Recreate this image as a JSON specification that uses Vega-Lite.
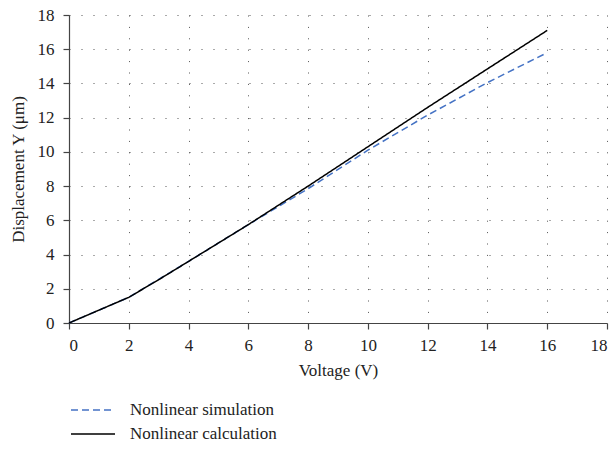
{
  "$schema": "https://vega.github.io/schema/vega-lite/v6.json",
  "width": 538,
  "height": 308,
  "autosize": "none",
  "padding": {"left": 69, "top": 15, "right": 8, "bottom": 126},
  "config": {
    "font": "Liberation Serif",
    "view": {"stroke": null},
    "axis": {
      "labelFont": "Liberation Serif",
      "titleFont": "Liberation Serif",
      "labelFontSize": 17,
      "titleFontSize": 17,
      "titleFontWeight": "normal",
      "labelColor": "#222",
      "titleColor": "#222",
      "domainColor": "#444",
      "tickColor": "#444",
      "domainWidth": 1.2,
      "tickWidth": 1.2,
      "tickSize": 6,
      "grid": true,
      "gridColor": "#555",
      "gridWidth": 1,
      "gridOpacity": 1
    }
  },
  "data": {
    "values": [
      {"v": 0, "d": 0, "series": "Nonlinear simulation"},
      {"v": 2, "d": 1.5, "series": "Nonlinear simulation"},
      {"v": 4, "d": 3.6, "series": "Nonlinear simulation"},
      {"v": 6, "d": 5.75, "series": "Nonlinear simulation"},
      {"v": 7, "d": 6.8, "series": "Nonlinear simulation"},
      {"v": 8, "d": 7.85, "series": "Nonlinear simulation"},
      {"v": 10, "d": 10.1, "series": "Nonlinear simulation"},
      {"v": 12, "d": 12.15, "series": "Nonlinear simulation"},
      {"v": 14, "d": 14.05, "series": "Nonlinear simulation"},
      {"v": 16, "d": 15.8, "series": "Nonlinear simulation"},
      {"v": 0, "d": 0, "series": "Nonlinear calculation"},
      {"v": 1, "d": 0.75, "series": "Nonlinear calculation"},
      {"v": 2, "d": 1.5, "series": "Nonlinear calculation"},
      {"v": 3, "d": 2.53, "series": "Nonlinear calculation"},
      {"v": 4, "d": 3.6, "series": "Nonlinear calculation"},
      {"v": 6, "d": 5.75, "series": "Nonlinear calculation"},
      {"v": 8, "d": 8.0, "series": "Nonlinear calculation"},
      {"v": 10, "d": 10.3, "series": "Nonlinear calculation"},
      {"v": 12, "d": 12.6, "series": "Nonlinear calculation"},
      {"v": 14, "d": 14.85, "series": "Nonlinear calculation"},
      {"v": 16, "d": 17.1, "series": "Nonlinear calculation"}
    ]
  },
  "mark": {"type": "line", "strokeWidth": 1.5},
  "encoding": {
    "x": {
      "field": "v",
      "type": "quantitative",
      "scale": {"domain": [0, 18], "nice": false},
      "axis": {
        "title": "Voltage (V)",
        "values": [0, 2, 4, 6, 8, 10, 12, 14, 16, 18],
        "gridDash": [1, 10.4],
        "labelPadding": 8,
        "titlePadding": 9
      }
    },
    "y": {
      "field": "d",
      "type": "quantitative",
      "scale": {"domain": [0, 18], "nice": false},
      "axis": {
        "title": "Displacement Y (μm)",
        "values": [0, 2, 4, 6, 8, 10, 12, 14, 16, 18],
        "gridDash": [1, 11],
        "labelPadding": 9,
        "titlePadding": 10
      }
    },
    "color": {
      "field": "series",
      "type": "nominal",
      "sort": ["Nonlinear simulation", "Nonlinear calculation"],
      "scale": {"domain": ["Nonlinear simulation", "Nonlinear calculation"], "range": ["#4472C4", "#000000"]},
      "legend": {
        "title": null,
        "orient": "none",
        "legendX": 12,
        "legendY": 383,
        "symbolType": "M-2,0H2",
        "symbolSize": 484,
        "symbolStrokeWidth": 1.5,
        "symbolFillColor": "transparent",
        "labelFont": "Liberation Serif",
        "labelFontSize": 17,
        "labelColor": "#222",
        "labelOffset": 25,
        "rowPadding": 4
      }
    },
    "strokeDash": {
      "field": "series",
      "type": "nominal",
      "sort": ["Nonlinear simulation", "Nonlinear calculation"],
      "scale": {"domain": ["Nonlinear simulation", "Nonlinear calculation"], "range": [[7, 4], [1, 0]]},
      "legend": {
        "title": null,
        "orient": "none",
        "legendX": 12,
        "legendY": 383,
        "symbolType": "M-2,0H2",
        "symbolSize": 484,
        "symbolStrokeWidth": 1.5,
        "symbolFillColor": "transparent",
        "labelFont": "Liberation Serif",
        "labelFontSize": 17,
        "labelColor": "#222",
        "labelOffset": 25,
        "rowPadding": 4
      }
    }
  }
}
